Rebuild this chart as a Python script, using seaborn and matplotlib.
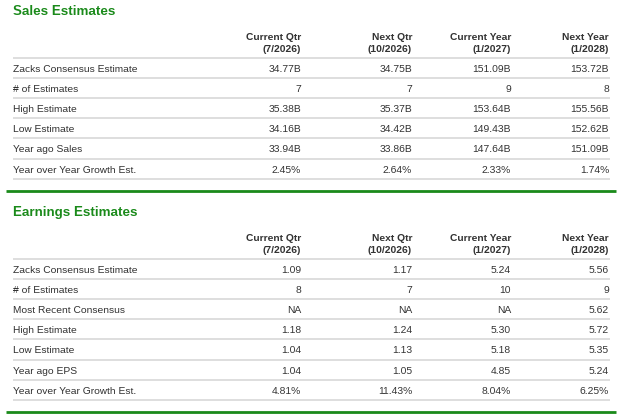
import matplotlib
matplotlib.use("Agg")
import matplotlib.pyplot as plt
import seaborn as sns

sns.set_theme(style="white")
plt.rcParams['font.family'] = ['Liberation Sans', 'DejaVu Sans']
plt.rcParams['text.hinting'] = 'native'
plt.rcParams['text.hinting_factor'] = 8

# ---- data ----
columns = ["Current Qtr", "Next Qtr", "Current Year", "Next Year"]
periods = ["(7/2026)", "(10/2026)", "(1/2027)", "(1/2028)"]

sales_title = "Sales Estimates"
sales_rows = ["Zacks Consensus Estimate", "# of Estimates", "High Estimate",
              "Low Estimate", "Year ago Sales", "Year over Year Growth Est."]
sales_current_qtr = ["34.77B", "7", "35.38B", "34.16B", "33.94B", "2.45%"]
sales_next_qtr = ["34.75B", "7", "35.37B", "34.42B", "33.86B", "2.64%"]
sales_current_year = ["151.09B", "9", "153.64B", "149.43B", "147.64B", "2.33%"]
sales_next_year = ["153.72B", "8", "155.56B", "152.62B", "151.09B", "1.74%"]

earn_title = "Earnings Estimates"
earn_rows = ["Zacks Consensus Estimate", "# of Estimates", "Most Recent Consensus",
             "High Estimate", "Low Estimate", "Year ago EPS", "Year over Year Growth Est."]
earn_current_qtr = ["1.09", "8", "NA", "1.18", "1.04", "1.04", "4.81%"]
earn_next_qtr = ["1.17", "7", "NA", "1.24", "1.13", "1.05", "11.43%"]
earn_current_year = ["5.24", "10", "NA", "5.30", "5.18", "4.85", "8.04%"]
earn_next_year = ["5.56", "9", "5.62", "5.72", "5.35", "5.24", "6.25%"]

# ---- style ----
W, H = 620, 416
GREEN = "#1a8a1a"
TEXT = "#333333"
SEP = "#d8d8d8"
px = lambda p: p * 72 / 100.0
FS = 10.3
TFS = 13.4

fig = plt.figure(figsize=(W / 100, H / 100), dpi=100)
ax = fig.add_axes([0, 0, 1, 1])
ax.set_xlim(0, W)
ax.set_ylim(H, 0)
ax.axis("off")
fig.patch.set_facecolor("white")

col_right = [301, 412, 511, 609]
label_x = 13
row_h = 20.2
cap = 0.716 * FS / 2
tcap = 0.716 * TFS / 2


def bl(y):
    return round(y)


def draw_section(top, title, rows, cols):
    ax.text(label_x, bl(top + 10 + tcap), title, color=GREEN, fontsize=px(TFS),
            fontweight="bold", va="baseline", ha="left")
    for x, c, p in zip(col_right, columns, periods):
        ax.text(x, bl(top + 36 + cap), c, color=TEXT, fontsize=px(FS), fontweight="bold",
                va="baseline", ha="right")
        ax.text(x, bl(top + 48.5 + cap), p, color=TEXT, fontsize=px(FS), fontweight="bold",
                va="baseline", ha="right")
    first_sep = top + 57.5
    ax.hlines(first_sep, label_x, 610, color=SEP, lw=1.2)
    for i, r in enumerate(rows):
        y = bl(first_sep + 10.5 + i * row_h + cap)
        ax.text(label_x, y, r, color=TEXT, fontsize=px(FS), va="baseline", ha="left")
        for x, vals in zip(col_right, cols):
            ax.text(x, y, vals[i], color=TEXT, fontsize=px(FS), va="baseline", ha="right")
        ax.hlines(first_sep + (i + 1) * row_h, label_x, 610, color=SEP, lw=1.2)
    last_sep = first_sep + len(rows) * row_h
    ax.hlines(last_sep + 12.5, 6, 616, color=GREEN, lw=2)


draw_section(0, sales_title, sales_rows,
             [sales_current_qtr, sales_next_qtr, sales_current_year, sales_next_year])
draw_section(201, earn_title, earn_rows,
             [earn_current_qtr, earn_next_qtr, earn_current_year, earn_next_year])

fig.savefig("out.png", dpi=100, facecolor="white")
